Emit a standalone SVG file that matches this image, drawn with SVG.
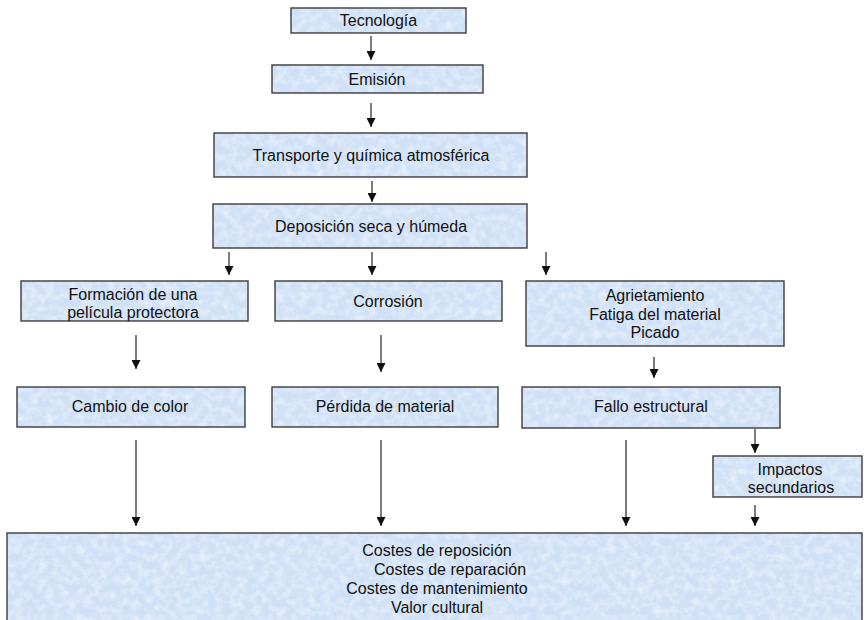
<svg xmlns="http://www.w3.org/2000/svg" width="864" height="620" viewBox="0 0 864 620">
  <style>
    .box { fill: #d0e1f7; filter: url(#paper); }
    .edge { fill: none; stroke: #3c3c3c; stroke-width: 1.4; }
    text { font-family: "Liberation Sans", Arial, sans-serif; font-size: 16px; fill: #111; text-anchor: middle; }
    .conn line { stroke: #111; stroke-width: 1.1; marker-end: url(#head); }
  </style>
  <defs>
    <!-- fine mottled light-blue paper texture for box fills -->
    <filter id="paper" x="0" y="0" width="100%" height="100%">
      <feTurbulence type="fractalNoise" baseFrequency="0.13" numOctaves="3" seed="7" result="noise"/>
      <feColorMatrix in="noise" type="matrix" values="0 0 0 0 1  0 0 0 0 1  0 0 0 0 1  1.0 0 0 0 -0.4" result="white"/>
      <feComposite in="white" in2="SourceGraphic" operator="in" result="spots"/>
      <feMerge><feMergeNode in="SourceGraphic"/><feMergeNode in="spots"/></feMerge>
    </filter>
    <marker id="head" viewBox="0 0 10 10" refX="10" refY="5" markerWidth="9" markerHeight="9" markerUnits="userSpaceOnUse" orient="auto">
      <path d="M0,0 L10,5 L0,10 Z" fill="#111"/>
    </marker>
  </defs>

  <g id="tecnologia">
    <rect class="box" x="291" y="8" width="175" height="25"/>
    <rect class="edge" x="291" y="8" width="175" height="25"/>
    <text x="378.5" y="26">Tecnología</text>
  </g>
  <g id="emision">
    <rect class="box" x="272" y="65" width="211" height="28"/>
    <rect class="edge" x="272" y="65" width="211" height="28"/>
    <text x="377" y="84.5">Emisión</text>
  </g>
  <g id="transporte">
    <rect class="box" x="214" y="133" width="313" height="44"/>
    <rect class="edge" x="214" y="133" width="313" height="44"/>
    <text x="371" y="160.5">Transporte y química atmosférica</text>
  </g>
  <g id="deposicion">
    <rect class="box" x="213" y="204" width="314" height="44"/>
    <rect class="edge" x="213" y="204" width="314" height="44"/>
    <text x="371" y="232">Deposición seca y húmeda</text>
  </g>
  <g id="formacion">
    <rect class="box" x="21" y="281" width="227" height="40"/>
    <rect class="edge" x="21" y="281" width="227" height="40"/>
    <text x="133" y="299.5">Formación de una</text>
    <text x="133" y="317.5">película protectora</text>
  </g>
  <g id="corrosion">
    <rect class="box" x="275" y="281" width="227" height="40"/>
    <rect class="edge" x="275" y="281" width="227" height="40"/>
    <text x="388" y="307">Corrosión</text>
  </g>
  <g id="agrietamiento">
    <rect class="box" x="526" y="281" width="258" height="65"/>
    <rect class="edge" x="526" y="281" width="258" height="65"/>
    <text x="655" y="301">Agrietamiento</text>
    <text x="655" y="319.5">Fatiga del material</text>
    <text x="655" y="338">Picado</text>
  </g>
  <g id="cambio-color">
    <rect class="box" x="17" y="387" width="228" height="40"/>
    <rect class="edge" x="17" y="387" width="228" height="40"/>
    <text x="130" y="412">Cambio de color</text>
  </g>
  <g id="perdida-material">
    <rect class="box" x="272" y="387" width="226" height="40"/>
    <rect class="edge" x="272" y="387" width="226" height="40"/>
    <text x="385" y="412">Pérdida de material</text>
  </g>
  <g id="fallo-estructural">
    <rect class="box" x="522" y="387" width="258" height="41"/>
    <rect class="edge" x="522" y="387" width="258" height="41"/>
    <text x="651" y="412">Fallo estructural</text>
  </g>
  <g id="impactos">
    <rect class="box" x="713" y="456" width="149" height="41"/>
    <rect class="edge" x="713" y="456" width="149" height="41"/>
    <text x="790" y="474.5">Impactos</text>
    <text x="791" y="493">secundarios</text>
  </g>
  <g id="costes">
    <rect class="box" x="7" y="533" width="855" height="100"/>
    <rect class="edge" x="7" y="533" width="855" height="100"/>
    <text x="437" y="555.5">Costes de reposición</text>
    <text x="450" y="574.5">Costes de reparación</text>
    <text x="437" y="593.5">Costes de mantenimiento</text>
    <text x="437" y="612.5">Valor cultural</text>
  </g>

  <g id="connectors" class="conn">
    <line x1="371" y1="36" x2="371" y2="60"/>
    <line x1="371" y1="103" x2="371" y2="127"/>
    <line x1="372" y1="181" x2="372" y2="202"/>
    <line x1="229" y1="252" x2="229" y2="275"/>
    <line x1="372" y1="252" x2="372" y2="275"/>
    <line x1="546" y1="252" x2="546" y2="275"/>
    <line x1="136" y1="335" x2="136" y2="369"/>
    <line x1="381" y1="335" x2="381" y2="372"/>
    <line x1="654" y1="357" x2="654" y2="378"/>
    <line x1="755" y1="429" x2="755" y2="453"/>
    <line x1="136" y1="440" x2="136" y2="526"/>
    <line x1="381" y1="440" x2="381" y2="526"/>
    <line x1="626" y1="440" x2="626" y2="526"/>
    <line x1="755" y1="505" x2="755" y2="526"/>
  </g>
</svg>
